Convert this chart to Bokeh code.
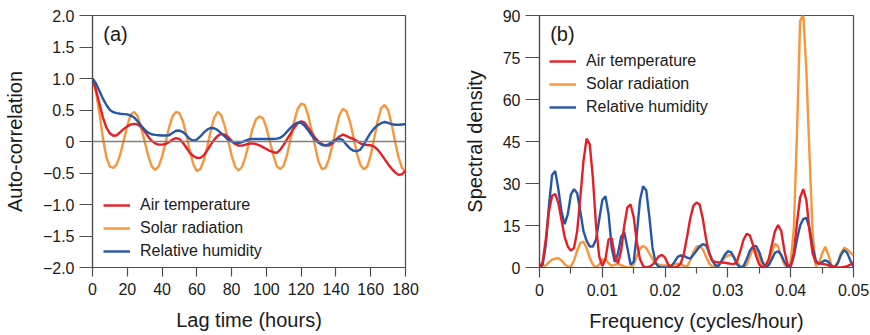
from bokeh.plotting import figure
from bokeh.layouts import row
from bokeh.models import (Range1d, FixedTicker, CustomJSTickFormatter, Legend,
                          LegendItem, Label, Span)
from bokeh.embed import file_html
from bokeh.resources import INLINE

# ---------------- data: panel (a) auto-correlation ----------------
lag_hours = list(range(0, 181, 2))

acf_air_temperature = [
    1.00, 0.82, 0.60, 0.38, 0.22, 0.13, 0.09, 0.10, 0.15, 0.20,
    0.24, 0.27, 0.28, 0.27, 0.23, 0.16, 0.08, 0.01, -0.03, -0.05,
    -0.05, -0.04, -0.01, 0.03, 0.055, 0.04, -0.02, -0.10, -0.18, -0.23,
    -0.26, -0.26, -0.22, -0.14, -0.05, 0.03, 0.09, 0.12, 0.11, 0.07,
    0.01, -0.04, -0.065, -0.065, -0.05, -0.035, -0.03, -0.04, -0.06, -0.09,
    -0.12, -0.15, -0.17, -0.18, -0.13, -0.05, 0.04, 0.13, 0.22, 0.29,
    0.32, 0.30, 0.22, 0.14, 0.06, 0.00, -0.04, -0.06, -0.065, -0.03,
    0.03, 0.08, 0.11, 0.09, 0.06, 0.04, 0.01, -0.03, -0.05, -0.055,
    -0.06, -0.08, -0.13, -0.20, -0.28, -0.36, -0.43, -0.49, -0.53, -0.52,
    -0.46]

acf_solar_radiation = [
    1.00, 0.78, 0.45, 0.05, -0.25, -0.40, -0.42, -0.36, -0.20, 0.02,
    0.25, 0.43, 0.47, 0.40, 0.22, 0.00, -0.22, -0.39, -0.45, -0.40,
    -0.24, -0.02, 0.22, 0.40, 0.47, 0.45, 0.32, 0.10, -0.15, -0.36,
    -0.47, -0.44, -0.30, -0.08, 0.17, 0.38, 0.47, 0.42, 0.25, 0.02,
    -0.22, -0.40, -0.46, -0.40, -0.24, -0.02, 0.20, 0.35, 0.40, 0.37,
    0.22, 0.00, -0.22, -0.39, -0.44, -0.38, -0.20, 0.05, 0.32, 0.52,
    0.60, 0.58, 0.42, 0.18, -0.08, -0.32, -0.44, -0.42, -0.28, -0.05,
    0.20, 0.42, 0.52, 0.48, 0.32, 0.08, -0.18, -0.37, -0.44, -0.40,
    -0.22, 0.05, 0.33, 0.53, 0.58, 0.50, 0.28, 0.00, -0.25, -0.42,
    -0.47]

acf_relative_humidity = [
    1.00, 0.92, 0.80, 0.68, 0.58, 0.50, 0.465, 0.45, 0.44, 0.435,
    0.43, 0.41, 0.38, 0.32, 0.25, 0.19, 0.14, 0.115, 0.105, 0.10,
    0.095, 0.095, 0.10, 0.135, 0.17, 0.175, 0.15, 0.10, 0.04, 0.015,
    0.03, 0.08, 0.14, 0.19, 0.215, 0.21, 0.18, 0.13, 0.08, 0.03,
    0.00, -0.02, -0.027, -0.01, 0.015, 0.035, 0.04, 0.04, 0.04, 0.04,
    0.04, 0.04, 0.04, 0.045, 0.06, 0.10, 0.16, 0.22, 0.27, 0.30,
    0.295, 0.25, 0.18, 0.10, 0.03, -0.02, -0.055, -0.065, -0.04, 0.00,
    0.03, 0.04, 0.02, -0.05, -0.11, -0.145, -0.155, -0.13, -0.05, 0.05,
    0.14, 0.21, 0.26, 0.29, 0.31, 0.295, 0.275, 0.265, 0.265, 0.27,
    0.275]

# ---------------- data: panel (b) spectral density ----------------
frequency = [round(i * 0.0005, 4) for i in range(101)]

sd_air_temperature = [
    0, 2, 10, 20, 25.5, 26.3, 23, 17, 11, 7.5,
    6, 7, 13, 25, 38, 46, 44, 32, 15, 4,
    0.5, 3, 10, 10.5, 4, 1.5, 6, 15, 21.5, 22.5,
    18, 9, 3, 0.5, 0, 0.3, 1, 2.5, 4, 4.5,
    3.5, 1, 0, 0, 0.3, 1.5, 5, 11, 17.5, 22,
    23.2, 22.5, 17.5, 10.5, 5, 2.5, 2, 1.8, 1.8, 1.7,
    1.5, 1.3, 1.2, 2.5, 6, 10, 12, 11.5, 8, 4,
    1, 0, 0.5, 3, 8, 13, 15.2, 13, 6, 1,
    0.5, 5, 16, 25, 28, 24, 13, 5, 1.8, 1.5,
    1.3, 1.1, 0.8, 0.4, 0.1, 0, 0, 0.2, 0.5, 1,
    1.8]

sd_solar_radiation = [
    0, 0.2, 0.8, 1.8, 2.8, 3.2, 3.3, 2.5, 1.2, 0.3,
    0.3, 2.5, 6, 8.8, 9.2, 7, 3.5, 1, 0, 1,
    2.8, 3, 1.5, 0.6, 1, 1.2, 0.8, 0.4, 0.1, 0,
    1, 4, 6.8, 7.7, 7, 5, 3, 1.5, 1, 0.8,
    0.7, 0.7, 0.8, 1.2, 1.4, 1.2, 0.6, 0.3, 2.5, 5.5,
    7.4, 7.7, 6.5, 4, 1.5, 0.4, 0.1, 0.5, 2, 3.5,
    4.3, 4.5, 3.5, 1.8, 0.4, 0, 1, 4, 6.8, 6.5,
    3.5, 0.8, 0, 1.5, 5.5, 8.5, 7.5, 4, 1, 0,
    2, 14, 48, 88, 90.5, 70, 40, 12, 0.5, 1.5,
    5, 7.4, 4.5, 0.8, 0.3, 2, 5, 7, 6.5, 5.3,
    4.2]

sd_relative_humidity = [
    0, 1, 8, 22, 33, 34.5, 28, 20, 15.5, 19,
    26, 28, 26.5, 20, 13, 9.5, 7.5, 7.5, 10, 17,
    24, 25.5, 19, 7, 2, 5, 11, 12.5, 7, 1,
    2, 12, 24, 29, 27.5, 18, 7, 1.5, 0.2, 0,
    0, 0, 0.5, 2, 3.8, 4.3, 4.2, 3.5, 3.2, 4.5,
    6, 7.5, 8.3, 8, 5.5, 2.5, 0.8, 0.6, 2.5, 4.5,
    5.8, 5.5, 3.5, 1, 0, 0.5, 3, 6, 7.5, 7.7,
    5.5, 2, 0.3, 0.8, 3, 5.3, 5.8, 4.5, 2, 0.3,
    0.5, 4, 10, 15, 17.3, 17.7, 14, 7, 2.5, 1.3,
    2, 2.6, 2, 0.6, 0, 1.5, 4.5, 6.2, 5.2, 2.5,
    0.3]

series_names = ["Air temperature", "Solar radiation", "Relative humidity"]

lag_ticks = [0, 20, 40, 60, 80, 100, 120, 140, 160, 180]
acf_ticks = [-2.0, -1.5, -1.0, -0.5, 0.0, 0.5, 1.0, 1.5, 2.0]
freq_ticks = [0, 0.01, 0.02, 0.03, 0.04, 0.05]
freq_minor_ticks = [0.005, 0.015, 0.025, 0.035, 0.045]
sd_ticks = [0, 15, 30, 45, 60, 75, 90]

# ---------------- styling ----------------
FONT = "Liberation Sans"
TXT = "#1a1a1a"
AX = "#4d4d4d"
C_RED = "#e41f26"
C_ORANGE = "#f7963b"
C_BLUE = "#2457a8"
LW = 2.4


def style(p, xticks, yticks, x_out, y_out, xlabel, ylabel):
    p.xaxis.ticker = FixedTicker(ticks=xticks)
    p.yaxis.ticker = FixedTicker(ticks=yticks)
    for ax in (p.xaxis[0], p.yaxis[0]):
        ax.axis_line_color = AX
        ax.axis_line_width = 1.2
        ax.major_tick_line_color = AX
        ax.major_tick_line_width = 1.2
        ax.minor_tick_line_color = AX
        ax.major_tick_in = 0
        ax.minor_tick_in = 0
        ax.major_label_text_font = FONT
        ax.major_label_text_font_size = "16px"
        ax.major_label_text_color = TXT
        ax.axis_label_text_font = FONT
        ax.axis_label_text_font_size = "20px"
        ax.axis_label_text_font_style = "normal"
        ax.axis_label_text_color = TXT
    p.xaxis.major_tick_out = x_out
    p.yaxis.major_tick_out = y_out
    p.xaxis.major_label_standoff = 6
    p.yaxis.major_label_standoff = 5
    p.xaxis.axis_label = xlabel
    p.yaxis.axis_label = ylabel
    p.xaxis.axis_label_standoff = 11
    p.yaxis.axis_label_standoff = 14
    p.xgrid.visible = False
    p.ygrid.visible = False
    p.outline_line_color = AX
    p.outline_line_width = 1.2
    p.background_fill_color = "white"
    p.border_fill_color = "white"


# ---------------- panel (a) ----------------
pa = figure(frame_width=313, frame_height=252, min_border_left=91,
            min_border_right=46, min_border_top=15, min_border_bottom=68,
            x_range=Range1d(0, 180), y_range=Range1d(-2, 2),
            output_backend="svg", toolbar_location=None)
style(pa, lag_ticks, acf_ticks, 9, 13, "Lag time (hours)", "Auto-correlation")
pa.xaxis.minor_tick_out = 0
pa.yaxis.minor_tick_out = 0
pa.yaxis.formatter = CustomJSTickFormatter(code="""
    if (Math.abs(tick) < 1e-9) { return "0"; }
    const s = Math.abs(tick).toFixed(1);
    return (tick < 0 ? "\u2212" : "") + s;
""")
pa.add_layout(Span(location=0, dimension="width", line_color="#808080",
                   line_width=1.5))
ra_o = pa.line(lag_hours, acf_solar_radiation, line_color=C_ORANGE, line_width=LW)
ra_r = pa.line(lag_hours, acf_air_temperature, line_color=C_RED, line_width=LW)
ra_b = pa.line(lag_hours, acf_relative_humidity, line_color=C_BLUE, line_width=LW)
leg_a = Legend(items=[LegendItem(label=series_names[0], renderers=[ra_r]),
                      LegendItem(label=series_names[1], renderers=[ra_o]),
                      LegendItem(label=series_names[2], renderers=[ra_b])],
               location=(11, 6))
pa.add_layout(Label(x=6.2, y=1.71, text="(a)", text_font=FONT,
                    text_font_size="20px", text_color=TXT,
                    text_baseline="middle", text_align="left"))

# ---------------- panel (b) ----------------
pb = figure(frame_width=314, frame_height=252, min_border_left=88,
            min_border_right=18, min_border_top=15, min_border_bottom=68,
            x_range=Range1d(0, 0.05), y_range=Range1d(0, 90),
            output_backend="svg", toolbar_location=None)
style(pb, freq_ticks, sd_ticks, 10, 14, "Frequency (cycles/hour)",
      "Spectral density")
pb.xaxis.ticker = FixedTicker(ticks=freq_ticks, minor_ticks=freq_minor_ticks)
pb.xaxis.minor_tick_out = 6
pb.xaxis.minor_tick_line_width = 1.2
pb.yaxis.minor_tick_out = 0
pb.xaxis.formatter = CustomJSTickFormatter(code="""
    if (Math.abs(tick) < 1e-12) { return "0"; }
    return tick.toFixed(2);
""")
rb_o = pb.line(frequency, sd_solar_radiation, line_color=C_ORANGE, line_width=LW)
rb_b = pb.line(frequency, sd_relative_humidity, line_color=C_BLUE, line_width=LW)
rb_r = pb.line(frequency, sd_air_temperature, line_color=C_RED, line_width=LW)
leg_b = Legend(items=[LegendItem(label=series_names[0], renderers=[rb_r]),
                      LegendItem(label=series_names[1], renderers=[rb_o]),
                      LegendItem(label=series_names[2], renderers=[rb_b])],
               location=(10, 150))
pb.add_layout(Label(x=0.0017, y=83.5, text="(b)", text_font=FONT,
                    text_font_size="20px", text_color=TXT,
                    text_baseline="middle", text_align="left"))

for leg, p in ((leg_a, pa), (leg_b, pb)):
    leg.label_text_font = FONT
    leg.label_text_font_size = "16px"
    leg.label_text_color = TXT
    leg.glyph_width = 27
    leg.glyph_height = 20
    leg.label_height = 20
    leg.label_standoff = 10
    leg.spacing = 3
    leg.padding = 0
    leg.margin = 0
    leg.border_line_color = None
    leg.background_fill_alpha = 0
    p.add_layout(leg)

layout = row(pa, pb)
open("out.html", "w").write(file_html(layout, INLINE))
